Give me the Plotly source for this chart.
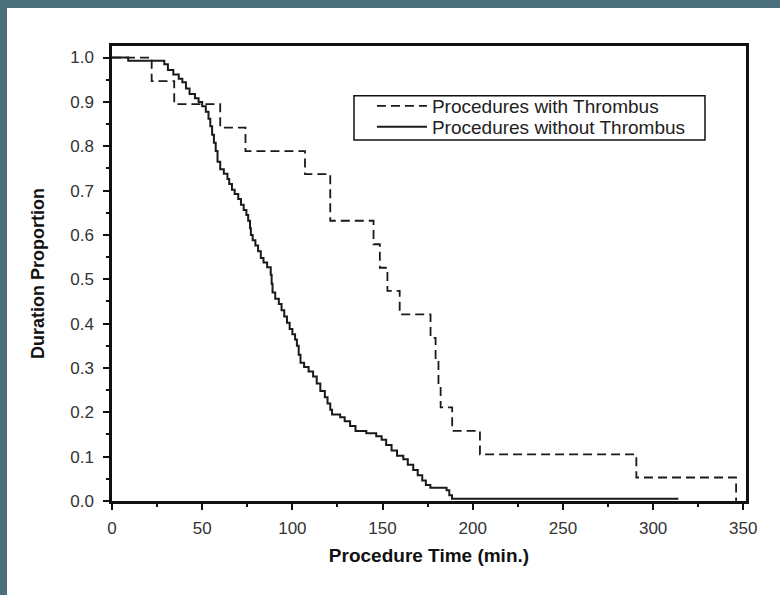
import plotly.graph_objects as go

# Kaplan-Meier style step data
with_time = [0, 22, 34.5, 60, 74, 107, 121, 145, 148.5, 152.7, 159.5, 176.6, 179.4, 181, 182.2, 188.6, 204, 290.7, 346]
with_surv = [1.0, 0.947, 0.895, 0.842, 0.789, 0.737, 0.632, 0.579, 0.526, 0.474, 0.421, 0.368, 0.316, 0.263, 0.211, 0.158, 0.105, 0.053, 0.0]

without_time = [0, 9, 29, 31, 34, 37, 39, 41, 43, 46, 48, 50, 52, 53.5, 54.5, 55.5, 56.5, 57.5, 58.5, 60,
                62, 64, 65, 66.5, 68, 70, 71.5, 73, 74.5, 75.5, 76.5, 77, 78, 79.5, 81, 82.5, 84, 86, 88, 88.5,
                89, 90.5, 92.5, 94, 95.5, 97, 98.5, 100, 101.5, 102.5, 103.5, 104.5, 106.5, 109, 111.5, 113.5,
                115.5, 118, 119.5, 121, 122, 126.5, 129, 132, 135, 141, 146.5, 149.5, 152, 155, 158, 161.5,
                164, 167, 169.5, 172, 174, 176.5, 185.5, 187, 188.5, 314]
without_surv = [1.0, 0.993, 0.985, 0.972, 0.962, 0.952, 0.944, 0.930, 0.918, 0.908, 0.900, 0.890, 0.878, 0.862,
                0.845, 0.826, 0.808, 0.789, 0.765, 0.748, 0.738, 0.726, 0.715, 0.702, 0.692, 0.681, 0.668, 0.656,
                0.645, 0.632, 0.615, 0.600, 0.588, 0.576, 0.563, 0.548, 0.538, 0.527, 0.510, 0.490, 0.470, 0.456,
                0.444, 0.430, 0.416, 0.402, 0.388, 0.376, 0.364, 0.350, 0.330, 0.312, 0.302, 0.292, 0.281, 0.265,
                0.248, 0.234, 0.220, 0.206, 0.195, 0.189, 0.180, 0.169, 0.158, 0.153, 0.146, 0.138, 0.126, 0.114,
                0.102, 0.094, 0.082, 0.070, 0.058, 0.046, 0.036, 0.030, 0.024, 0.013, 0.005, 0.005]

x_ticks = [0, 50, 100, 150, 200, 250, 300, 350]
y_ticks = [0.0, 0.1, 0.2, 0.3, 0.4, 0.5, 0.6, 0.7, 0.8, 0.9, 1.0]
y_tick_labels = ["0.0", "0.1", "0.2", "0.3", "0.4", "0.5", "0.6", "0.7", "0.8", "0.9", "1.0"]

FONT = "Liberation Sans, Arial, sans-serif"

fig = go.Figure()
fig.add_trace(go.Scatter(
    x=with_time, y=with_surv, mode="lines", line_shape="hv",
    name="Procedures with Thrombus", legend="legend",
    line=dict(color="#1a1a1a", width=1.8, dash="9px,5px"),
))
fig.add_trace(go.Scatter(
    x=without_time, y=without_surv, mode="lines", line_shape="hv",
    name="Procedures without Thrombus", legend="legend2",
    line=dict(color="#1a1a1a", width=2),
))

# white page over the teal frame (frame visible only on the left and top edges)
fig.add_shape(type="rect", xref="paper", yref="paper", x0=-0.1656, x1=1.06, y0=-0.3, y1=1.0835,
              fillcolor="white", line=dict(width=0), layer="below")
# legend box
fig.add_shape(type="rect", xref="paper", yref="paper", x0=0.3817, x1=0.9353, y0=0.7934, y1=0.8908,
              fillcolor="white", line=dict(width=1.5, color="#111"), layer="above")

legend_common = dict(xanchor="left", yanchor="middle", bgcolor="rgba(0,0,0,0)", borderwidth=0,
                     font=dict(family=FONT, size=19, color="#222"), itemwidth=50)

fig.update_layout(
    width=780, height=595, autosize=False,
    margin=dict(l=112, r=34, t=46, b=94, autoexpand=False),
    paper_bgcolor="#4b707b", plot_bgcolor="white",
    font=dict(family=FONT, size=17, color="#222"),
    showlegend=True,
    legend=dict(x=0.41, y=0.868, **legend_common),
    legend2=dict(x=0.41, y=0.822, **legend_common),
    xaxis=dict(range=[0, 351.5], tickvals=x_ticks, ticks="outside", ticklen=6, tickwidth=1.5,
               tickcolor="#111", showline=True, linewidth=2.5, linecolor="#111", mirror=True,
               showgrid=False, zeroline=False, ticklabelstandoff=4, automargin=False,
               tickfont=dict(family=FONT, size=17, color="#333"),
               minor=dict(dtick=25, ticks="outside", ticklen=3, tickwidth=1.5, tickcolor="#111"),
               title=dict(text="<b>Procedure Time (min.)</b>", standoff=12,
                          font=dict(family=FONT, size=19, color="#111"))),
    yaxis=dict(range=[0, 1.026], tickvals=y_ticks, ticktext=y_tick_labels, ticks="outside", ticklen=6,
               tickwidth=1.5, tickcolor="#111", showline=True, linewidth=2.5, linecolor="#111", mirror=True,
               showgrid=False, zeroline=False, ticklabelstandoff=6, automargin=False,
               tickfont=dict(family=FONT, size=17, color="#333"),
               minor=dict(dtick=0.05, ticks="outside", ticklen=3, tickwidth=1.5, tickcolor="#111"),
               title=dict(text="<b>Duration Proportion</b>", standoff=21,
                          font=dict(family=FONT, size=18, color="#111"))),
)

fig.write_html("out.html", config={"displayModeBar": False},
               post_script="document.body.style.margin='0';document.body.style.overflow='hidden';")
